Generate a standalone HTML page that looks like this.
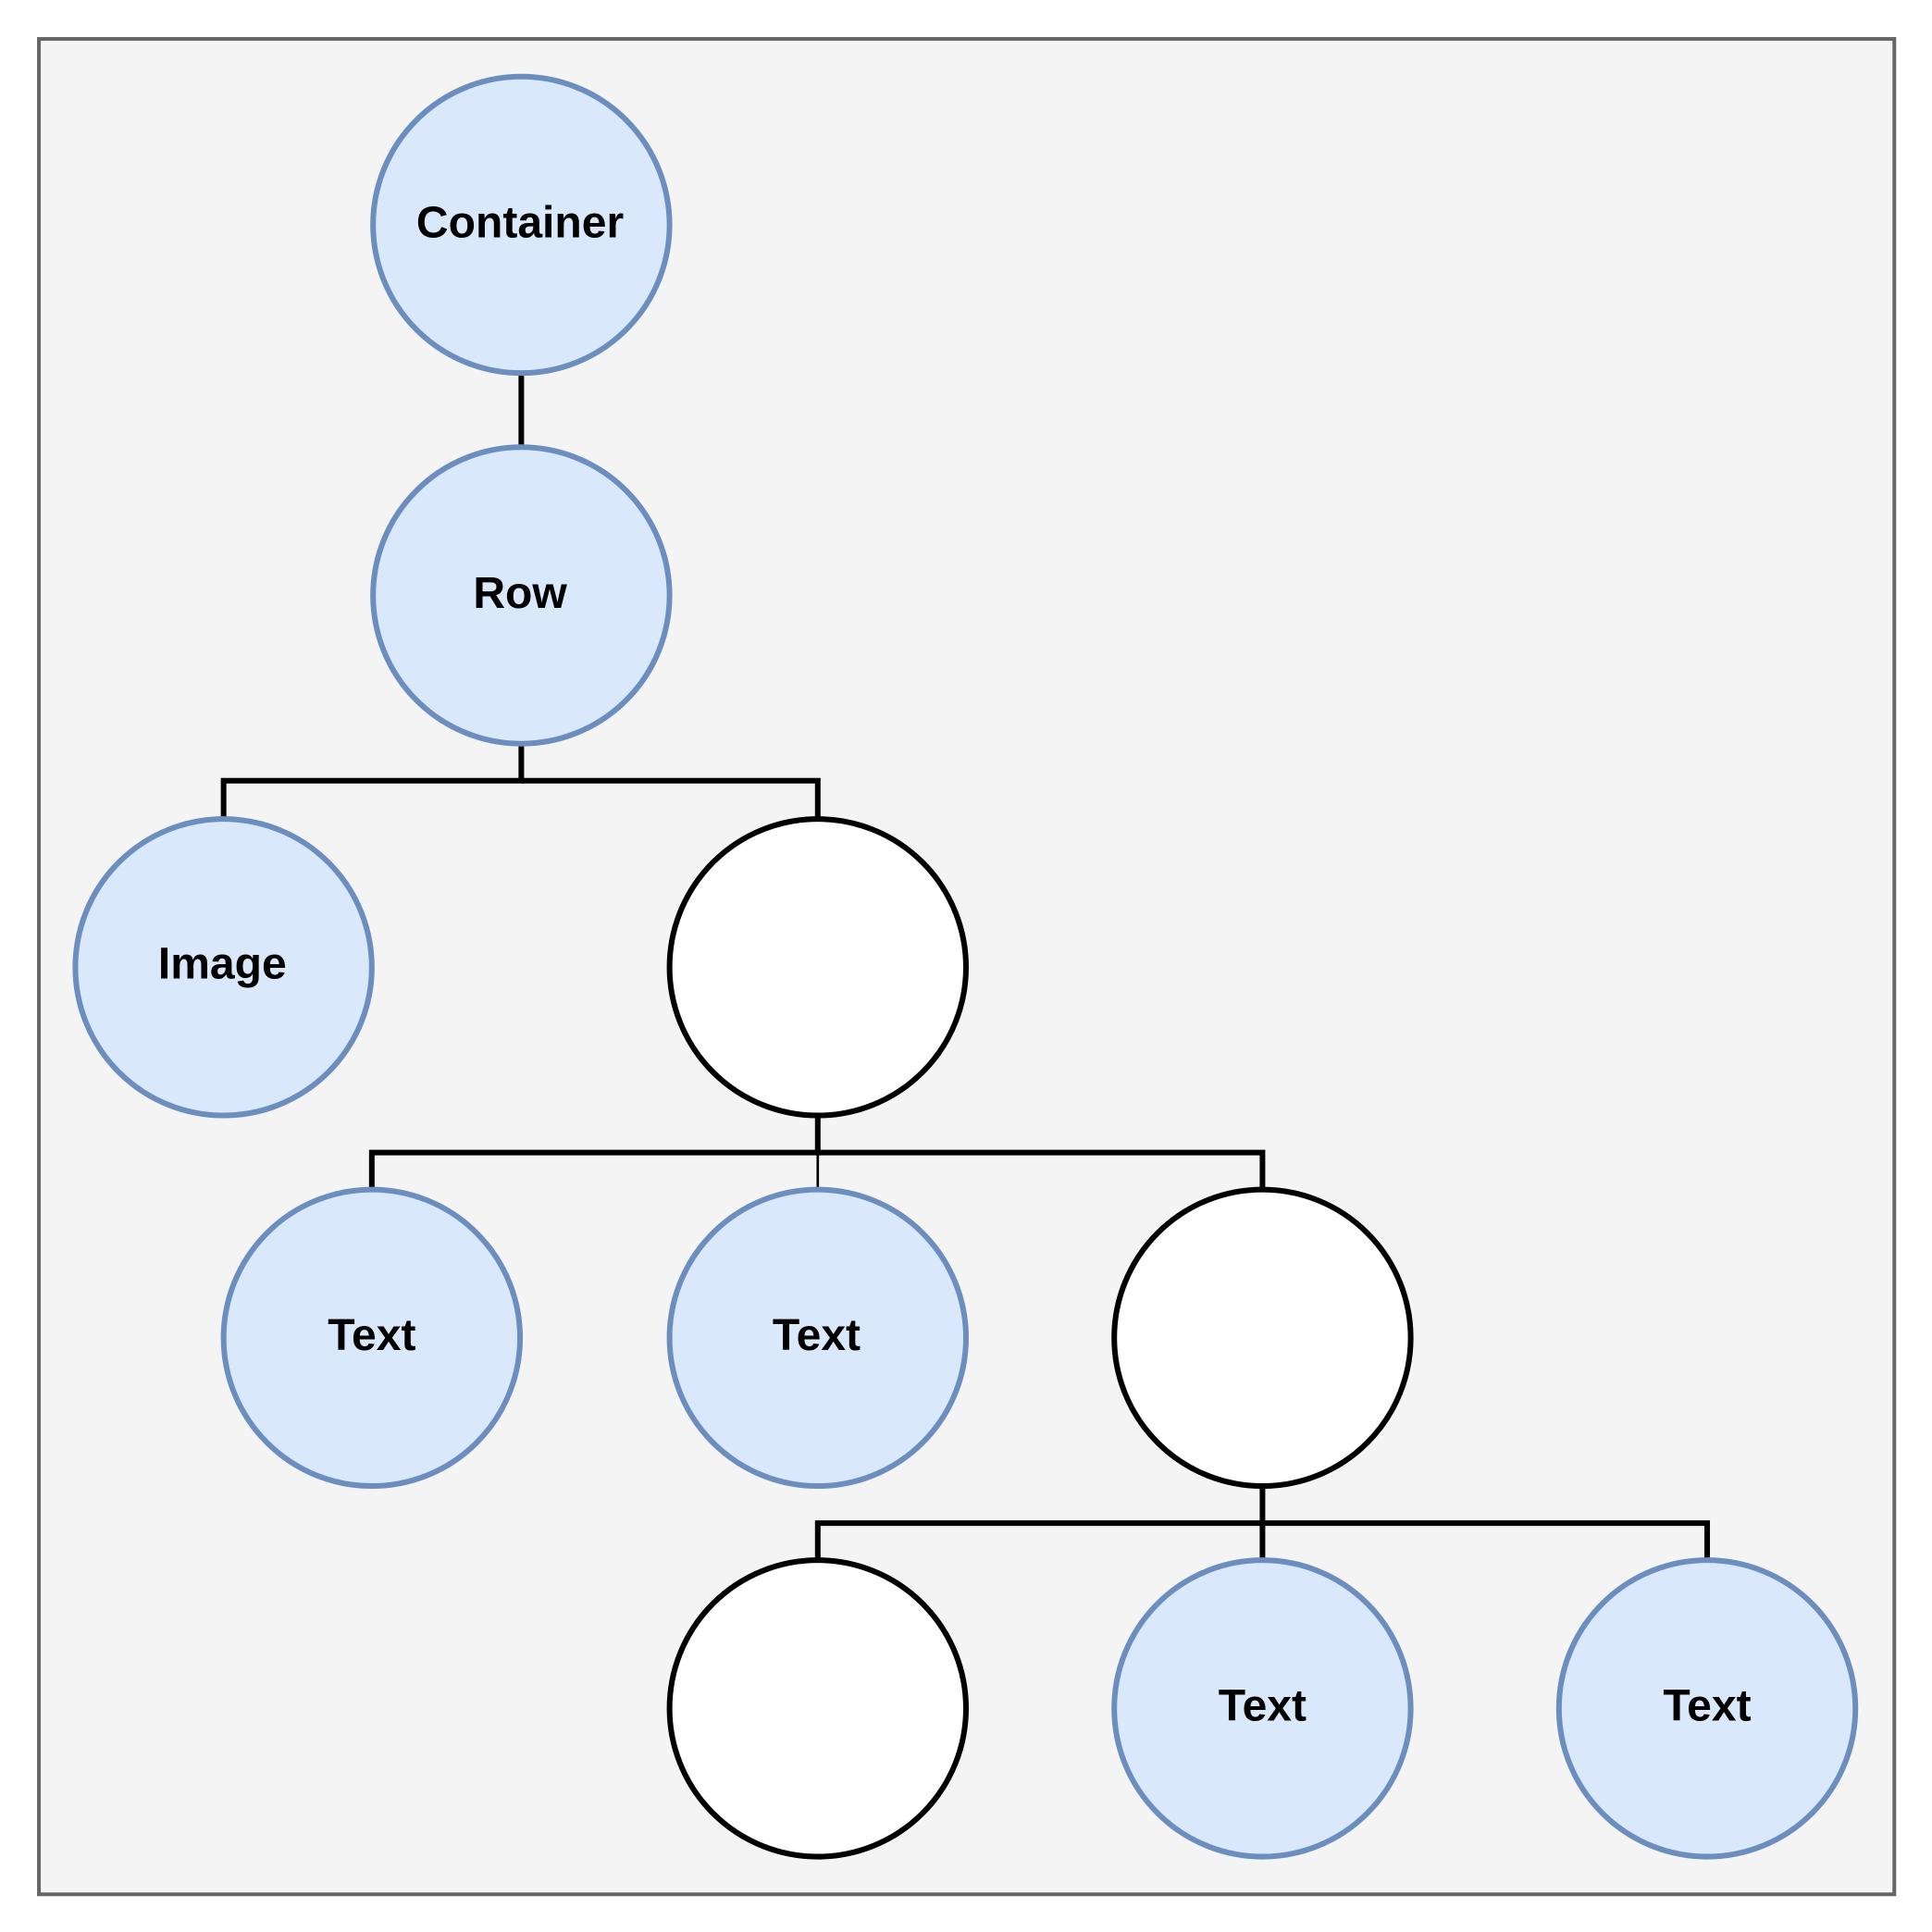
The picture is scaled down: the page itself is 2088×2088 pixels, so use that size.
<!DOCTYPE html>
<html><head><meta charset="utf-8"><style>html,body{margin:0;padding:0;background:#fff}svg{display:block}</style></head>
<body>
<svg width="2088" height="2088" viewBox="0 0 1564 1564" xmlns="http://www.w3.org/2000/svg">
<rect x="31.5" y="31.5" width="1502" height="1502" fill="#f4f4f4" stroke="#666" stroke-width="3"/>
<g fill="none" stroke="#000" stroke-width="4.5">
<line x1="422" y1="302" x2="422" y2="362"/>
<polyline points="422,602 422,632 181,632 181,662"/>
<polyline points="422,632 662,632 662,662"/>
<polyline points="662,902 662,933 301,933 301,963"/>
<polyline points="662,933 1022,933 1022,963"/>
<line x1="662" y1="933" x2="662" y2="963" stroke-width="2"/>
<polyline points="1022,1203 1022,1233 662,1233 662,1263"/>
<polyline points="1022,1233 1382,1233 1382,1263"/>
<line x1="1022" y1="1233" x2="1022" y2="1263"/>
</g>
<g stroke-width="4.5">
<circle cx="422" cy="182" r="120" fill="#dae8fc" stroke="#6c8ebf"/>
<circle cx="422" cy="482" r="120" fill="#dae8fc" stroke="#6c8ebf"/>
<circle cx="181" cy="783" r="120" fill="#dae8fc" stroke="#6c8ebf"/>
<circle cx="662" cy="783" r="120" fill="#fff" stroke="#000"/>
<circle cx="301" cy="1083" r="120" fill="#dae8fc" stroke="#6c8ebf"/>
<circle cx="662" cy="1083" r="120" fill="#dae8fc" stroke="#6c8ebf"/>
<circle cx="1022" cy="1083" r="120" fill="#fff" stroke="#000"/>
<circle cx="662" cy="1383" r="120" fill="#fff" stroke="#000"/>
<circle cx="1022" cy="1383" r="120" fill="#dae8fc" stroke="#6c8ebf"/>
<circle cx="1382" cy="1383" r="120" fill="#dae8fc" stroke="#6c8ebf"/>
</g>
<g font-family="Liberation Sans, sans-serif" font-weight="bold" font-size="36" text-anchor="middle" fill="#000">
<text x="421" y="192">Container</text>
<text x="421" y="492">Row</text>
<text x="180" y="792">Image</text>
<text x="301" y="1093">Text</text>
<text x="661" y="1093">Text</text>
<text x="1022" y="1393">Text</text>
<text x="1382" y="1393">Text</text>
</g>
</svg>
</body></html>
